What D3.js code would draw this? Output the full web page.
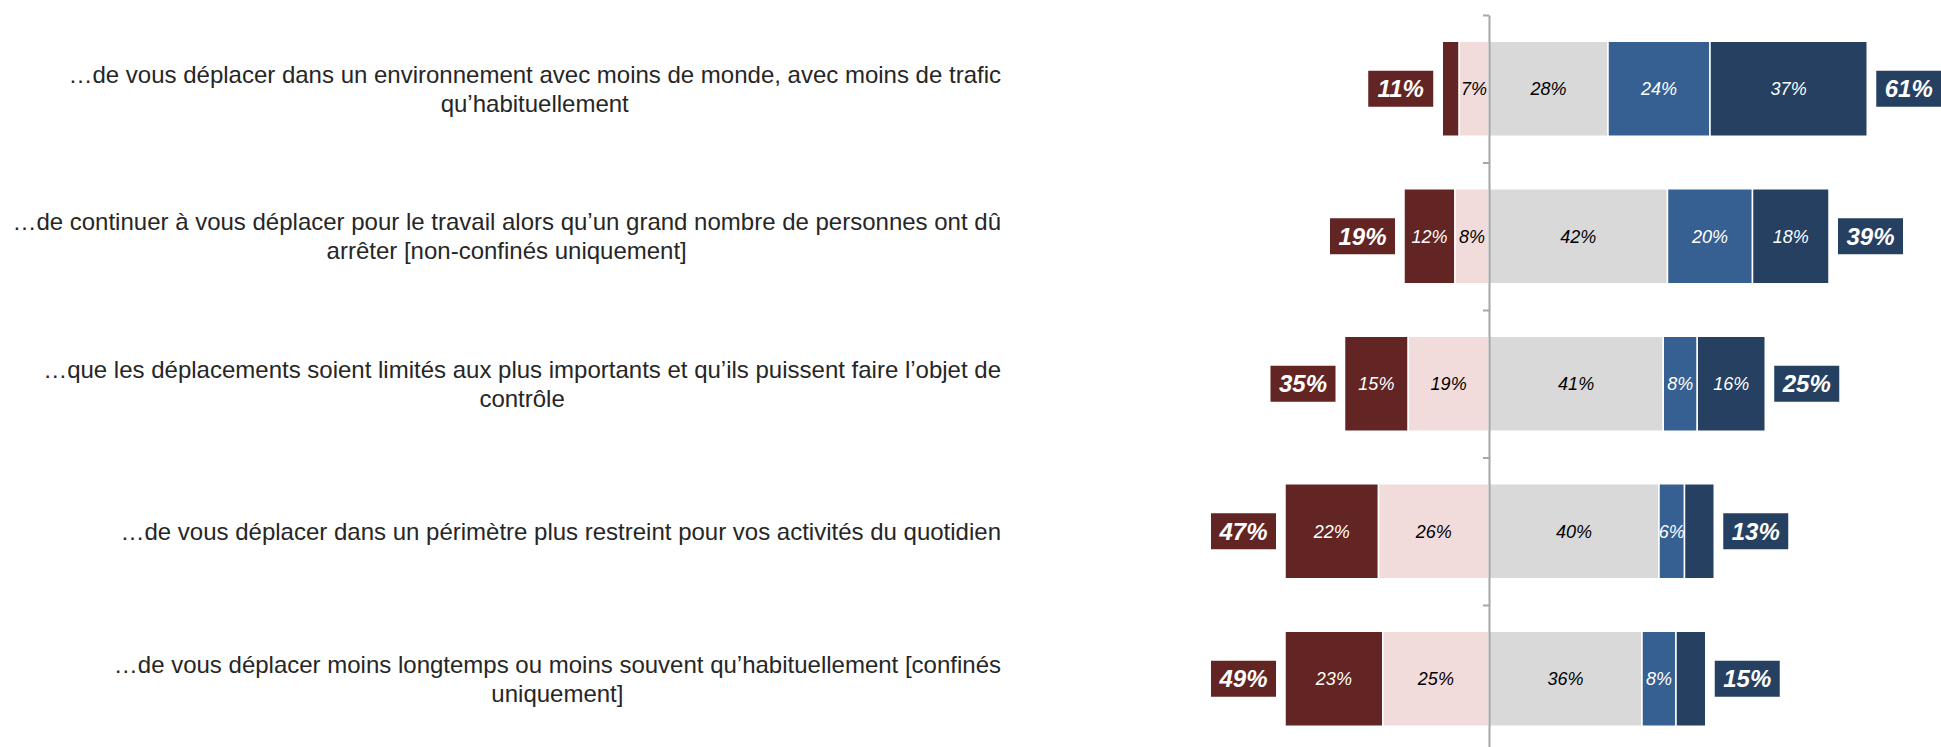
<!DOCTYPE html>
<html>
<head>
<meta charset="utf-8">
<script src="https://cdn.jsdelivr.net/npm/d3@7"></script>
<style>
  body { margin: 0; background: #fff; }
  text { font-family: "Liberation Sans", Arial, sans-serif; }
</style>
</head>
<body>
<svg id="chart"></svg>
<script>
// categories (one per row), each split in lines
let categories = [
    ["…de vous déplacer dans un environnement avec moins de monde, avec moins de trafic", "qu’habituellement"],
    ["…de continuer à vous déplacer pour le travail alors qu’un grand nombre de personnes ont dû", "arrêter [non-confinés uniquement]"],
    ["…que les déplacements soient limités aux plus importants et qu’ils puissent faire l’objet de", "contrôle"],
    ["…de vous déplacer dans un périmètre plus restreint pour vos activités du quotidien"],
    ["…de vous déplacer moins longtemps ou moins souvent qu’habituellement [confinés", "uniquement]"]
];

// series values in %
let tresNeg   = [4, 12, 15, 22, 23];
let plutotNeg = [7, 8, 19, 26, 25];
let neutre    = [28, 42, 41, 40, 36];
let plutotPos = [24, 20, 8, 6, 8];
let tresPos   = [37, 18, 16, 7, 7];

// which segments carry a label
let showTresNeg = [false, true, true, true, true];
let showTresPos = [true, true, true, false, false];

// net totals shown in boxes
let netNeg = [11, 19, 35, 47, 49];
let netPos = [61, 39, 25, 13, 15];

let colors = {
    tresNeg: "#632523",
    plutotNeg: "#F2DCDB",
    neutre: "#D9D9D9",
    plutotPos: "#376092",
    tresPos: "#254061"
};

function makeChart() {
    let w = 1941;
    let h = 747;

    let svg = d3.select("#chart")
        .attr("width", w)
        .attr("height", h);

    let rows = categories.map((c, i) => ({
        i: i,
        lines: c,
        segs: [
            { key: "tresNeg", x0: -(plutotNeg[i] + tresNeg[i]), x1: -plutotNeg[i], v: tresNeg[i], show: showTresNeg[i], txt: "#fff" },
            { key: "plutotNeg", x0: -plutotNeg[i], x1: 0, v: plutotNeg[i], show: true, txt: "#000" },
            { key: "neutre", x0: 0, x1: neutre[i], v: neutre[i], show: true, txt: "#000" },
            { key: "plutotPos", x0: neutre[i], x1: neutre[i] + plutotPos[i], v: plutotPos[i], show: true, txt: "#fff" },
            { key: "tresPos", x0: neutre[i] + plutotPos[i], x1: neutre[i] + plutotPos[i] + tresPos[i], v: tresPos[i], show: showTresPos[i], txt: "#fff" }
        ]
    }));

    let top = 15;
    let step = 147.5;

    let yScale = d3.scaleBand()
        .domain(d3.range(categories.length))
        .range([top, top + step * categories.length])
        .paddingInner(0.356)
        .paddingOuter(0.178);

    let zero = 1489;
    let xScale = d3.scaleLinear()
        .domain([-50, 100])
        .range([zero - 50 * 4.25, zero + 100 * 4.25]);

    let rowG = svg.selectAll(".row")
        .data(rows)
        .join("g")
        .attr("class", "row")
        .attr("transform", d => `translate(0, ${yScale(d.i)})`);

    let bh = yScale.bandwidth();

    rowG.selectAll("rect.seg")
        .data(d => d.segs)
        .join("rect")
        .attr("class", "seg")
        .attr("x", d => xScale(d.x0))
        .attr("width", d => xScale(d.x1) - xScale(d.x0))
        .attr("y", 0)
        .attr("height", bh)
        .attr("fill", d => colors[d.key])
        .attr("stroke", "#fff")
        .attr("stroke-width", 1.5);

    rowG.selectAll("text.seg")
        .data(d => d.segs.filter(s => s.show))
        .join("text")
        .attr("class", "seg")
        .attr("x", d => (xScale(d.x0) + xScale(d.x1)) / 2)
        .attr("y", bh / 2)
        .attr("dy", "0.35em")
        .attr("text-anchor", "middle")
        .attr("font-size", 18)
        .attr("font-style", "italic")
        .attr("fill", d => d.txt)
        .text(d => d.v + "%");

    // net boxes
    let boxW = 65, boxH = 36, gap = 9;

    let left = rowG.append("g")
        .attr("transform", d => `translate(${xScale(d.segs[0].x0) - gap - boxW}, ${bh / 2 - boxH / 2})`);
    left.append("rect")
        .attr("width", boxW)
        .attr("height", boxH)
        .attr("fill", colors.tresNeg);
    left.append("text")
        .attr("x", boxW / 2)
        .attr("y", boxH / 2)
        .attr("dy", "0.36em")
        .attr("text-anchor", "middle")
        .attr("font-size", 24)
        .attr("font-weight", "bold")
        .attr("font-style", "italic")
        .attr("fill", "#fff")
        .text(d => netNeg[d.i] + "%");

    let right = rowG.append("g")
        .attr("transform", d => `translate(${xScale(d.segs[4].x1) + gap}, ${bh / 2 - boxH / 2})`);
    right.append("rect")
        .attr("width", boxW)
        .attr("height", boxH)
        .attr("fill", colors.tresPos);
    right.append("text")
        .attr("x", boxW / 2)
        .attr("y", boxH / 2)
        .attr("dy", "0.36em")
        .attr("text-anchor", "middle")
        .attr("font-size", 24)
        .attr("font-weight", "bold")
        .attr("font-style", "italic")
        .attr("fill", "#fff")
        .text(d => netPos[d.i] + "%");

    // category labels: block right-aligned, lines centered
    let labelRight = 1001;
    let lineH = 29;
    rowG.each(function(d) {
        let g = d3.select(this).append("g");
        let t = g.selectAll("text")
            .data(d.lines)
            .join("text")
            .attr("font-size", 24)
            .attr("fill", "#262626")
            .attr("text-anchor", "middle")
            .attr("y", (l, k) => bh / 2 + (k - (d.lines.length - 1) / 2) * lineH)
            .attr("dy", "0.35em")
            .text(l => l);
        let maxW = d3.max(t.nodes(), n => n.getComputedTextLength());
        t.attr("x", labelRight - maxW / 2);
    });

    // vertical axis with ticks at row boundaries
    let yEdge = d3.scaleLinear()
        .domain([0, categories.length])
        .range([top, top + step * categories.length]);

    let yAxis = d3.axisLeft(yEdge)
        .ticks(categories.length)
        .tickSizeInner(6)
        .tickSizeOuter(0)
        .tickFormat("");

    let axisG = svg.append("g")
        .attr("transform", `translate(${zero}, 0)`)
        .call(yAxis);
    axisG.selectAll("path, line")
        .attr("stroke", "#A6A6A6")
        .attr("stroke-width", 2);
}

makeChart();
</script>
</body>
</html>
